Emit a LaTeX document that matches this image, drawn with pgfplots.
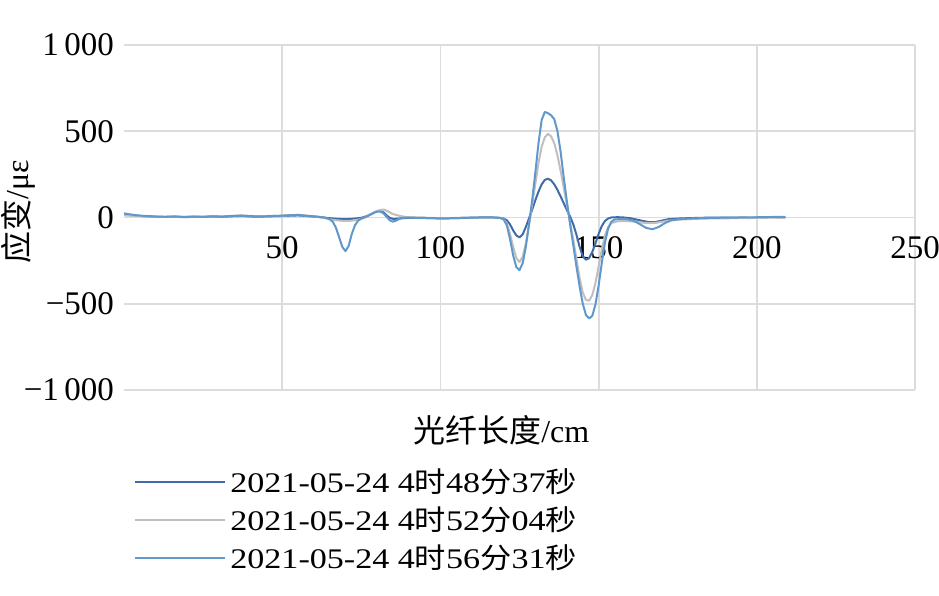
\documentclass[border=0pt]{standalone}
\usepackage{pgfplots}
\pgfplotsset{compat=1.18}
\usepackage{fontspec}
\setmainfont{Liberation Serif}
\newfontfamily\cjk{Noto Sans CJK SC}
\newfontfamily\legfont[FakeStretch=1.2]{Liberation Serif}
\newfontfamily\legcjk[FakeStretch=1.1]{Noto Sans CJK SC}
\definecolor{sdark}{HTML}{3F6CA9}
\definecolor{sgray}{HTML}{BFBFBF}
\definecolor{slight}{HTML}{6198CB}
\definecolor{gridc}{HTML}{DCDCDC}

% strain along the fibre, three readings
\pgfplotstableread{
x y
0 18
2 14
4 10
6 8
8 6
10 4
13 3
16 5
19 2
22 4
25 3
28 6
31 4
34 7
37 9
40 6
43 5
46 7
49 8
52 10
55 12
58 8
61 4
63 0
65 -4
67 -7
69 -9
71 -9
73 -6
75 -2
77 10
79 28
80 36
81 38
82 30
83 12
84 -2
85 -8
87 -6
89 -3
92 -2
96 -3
100 -5
104 -4
108 -2
112 0
116 1
119 -2
120 -6
121 -16
122 -40
123 -75
124 -104
125 -115
126 -98
127 -55
128 -5
129 45
130 100
131 150
132 192
133 218
134 225
135 215
136 192
137 160
138 122
139 82
140 42
141 5
142 -40
143 -100
144 -170
145 -225
146 -245
147 -235
148 -200
149 -150
150 -95
151 -50
152 -20
153 -6
154 0
156 2
158 0
160 -4
162 -12
164 -20
166 -27
168 -26
170 -18
172 -10
175 -6
178 -4
182 -2
186 0
190 -1
194 0
198 -2
202 1
205 2
208 0
209 1
}\sa

\pgfplotstableread{
x y
0 12
2 10
4 8
6 7
8 5
10 5
13 4
16 6
19 4
22 6
25 5
28 7
31 6
34 9
37 12
40 9
43 7
46 9
49 10
52 12
55 16
58 10
61 5
63 -2
65 -10
67 -16
69 -19
71 -20
73 -16
75 -8
77 8
79 28
80 38
81 44
82 46
83 40
84 30
85 20
87 10
89 3
92 0
96 -2
100 -4
104 -3
108 -1
112 0
116 0
119 -3
120 -10
121 -35
122 -95
123 -170
124 -235
125 -258
126 -228
127 -150
128 -45
129 75
130 195
131 315
132 410
133 465
134 485
135 470
136 430
137 360
138 270
139 170
140 70
141 -30
142 -130
143 -240
144 -350
145 -435
146 -478
147 -482
148 -450
149 -380
150 -285
151 -185
152 -105
153 -55
154 -32
156 -22
158 -20
160 -22
162 -26
164 -30
166 -33
168 -31
170 -25
172 -18
175 -13
178 -10
182 -7
186 -5
190 -5
194 -3
198 -3
202 -1
205 0
208 -1
209 0
}\sb

\pgfplotstableread{
x y
0 24
2 18
4 13
6 10
8 8
10 6
13 4
16 6
19 3
22 5
25 4
28 7
31 5
34 9
37 11
40 8
43 6
46 8
49 10
52 13
55 15
58 10
61 5
63 1
64 -3
65 -10
66 -25
67 -60
68 -115
69 -170
70 -195
71 -165
72 -95
73 -45
74 -18
75 -6
76 0
77 8
78 18
79 28
80 34
81 35
82 24
83 4
84 -16
85 -24
86 -18
87 -8
88 -2
90 0
93 -2
96 -3
100 -5
104 -4
108 -2
112 0
116 1
119 -3
120 -12
121 -45
122 -125
123 -220
124 -288
125 -305
126 -265
127 -170
128 -40
129 100
130 260
131 430
132 565
133 612
134 605
135 592
136 570
137 500
138 380
139 230
140 90
141 -40
142 -160
143 -285
144 -400
145 -500
146 -565
147 -585
148 -570
149 -505
150 -395
151 -265
152 -145
153 -65
154 -25
155 -12
157 -8
159 -10
161 -18
163 -38
165 -60
167 -68
169 -55
171 -32
173 -16
176 -9
179 -6
182 -4
186 -2
190 -1
194 0
198 1
202 2
205 3
208 3
209 4
}\sc

\begin{document}
\begin{tikzpicture}
\begin{axis}[
  name=ax,
  scale only axis, width=395.5pt, height=172.5pt,
  xmin=0, xmax=250, ymin=-1000, ymax=1000,
  axis x line=middle, axis y line=left,
  axis line style={draw=none},
  major tick length=0pt,
  xtick={0,50,...,250}, xticklabels={,50,100,150,200,250},
  ytick={-1000,-500,0,500,1000},
  yticklabels={−1\,000,−500,0,500,1\,000},
  grid=major, grid style={draw=gridc, line width=0.9pt},
  tick label style={font=\fontsize{16.5}{19}\selectfont},
  xticklabel style={yshift=-6pt},
  yticklabel style={xshift=-1.5pt},
  every axis x label/.style={at={(axis description cs:0.477,-0.116)}, anchor=center, font=\fontsize{16}{18}\selectfont},
  every axis y label/.style={at={(axis description cs:-0.133,0.516)}, anchor=center, rotate=90, font=\fontsize{16}{18}\selectfont},
  xlabel={{\cjk 光纤长度}/cm},
  ylabel={{\cjk 应变}/με},
  legend cell align=left,
  legend image code/.code={\draw[#1] (0pt,0pt) -- (42pt,0pt); \path (42pt,0pt) -- (45pt,0pt);},
  legend style={at={(axis description cs:0.005,-0.203)}, anchor=north west,
    draw=none, fill=none, font=\legfont\fontsize{14.2}{16}\selectfont, row sep=1.5pt},
  every axis plot/.append style={line width=1pt, line join=round},
]
\addplot[sdark] table {\sa};
\addplot[sgray] table {\sb};
\addplot[slight] table {\sc};
\legend{2021-05-24 4{\legcjk 时}48{\legcjk 分}37{\legcjk 秒}, 2021-05-24 4{\legcjk 时}52{\legcjk 分}04{\legcjk 秒}, 2021-05-24 4{\legcjk 时}56{\legcjk 分}31{\legcjk 秒}}
\end{axis}
\pgfresetboundingbox
\path[use as bounding box] ([xshift=-62pt,yshift=-102.5pt]ax.south west) rectangle ([xshift=12pt,yshift=22.5pt]ax.north east);
\end{tikzpicture}
\end{document}
